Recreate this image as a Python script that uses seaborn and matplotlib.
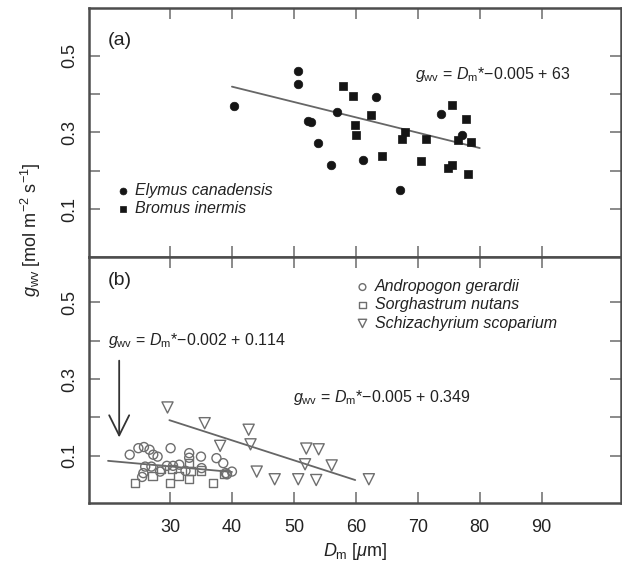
import numpy as np
import pandas as pd
import matplotlib
matplotlib.use("Agg")
import matplotlib.pyplot as plt
import seaborn as sns

# ---------------- data ----------------
# Panel (a)
elymus_x = [40.3, 50.7, 50.7, 52.2, 52.8, 53.9, 56.0, 57.0, 61.2, 63.2, 67.1, 73.8, 77.2]
elymus_y = [0.368, 0.460, 0.427, 0.329, 0.328, 0.273, 0.216, 0.353, 0.228, 0.391, 0.150, 0.349, 0.292]
bromus_x = [58.0, 59.6, 62.4, 59.9, 60.1, 64.3, 67.5, 68.0, 71.3, 70.5, 74.8, 75.5, 75.5, 77.7, 76.5, 78.6, 78.1]
bromus_y = [0.420, 0.395, 0.344, 0.319, 0.294, 0.237, 0.283, 0.301, 0.283, 0.224, 0.207, 0.214, 0.372, 0.334, 0.279, 0.274, 0.192]
fit_a_x = [40.0, 80.0]
fit_a_y = [0.419, 0.259]

# Panel (b)
andro_x = [23.5, 24.9, 25.8, 26.7, 27.3, 28.0, 30.1, 26.0, 27.0, 28.4, 29.5, 30.5, 31.5,
           33.1, 35.0, 37.5, 38.6, 40.0, 39.0, 25.7, 35.1, 32.5, 33.1, 39.2, 25.5]
andro_y = [0.103, 0.120, 0.123, 0.116, 0.103, 0.098, 0.120, 0.072, 0.072, 0.059, 0.074, 0.074, 0.077,
           0.107, 0.098, 0.094, 0.081, 0.059, 0.055, 0.055, 0.068, 0.061, 0.095, 0.052, 0.045]
sorg_x = [24.3, 27.2, 30.0, 30.3, 31.4, 33.1, 33.1, 35.0, 36.9, 38.7, 33.3, 28.6]
sorg_y = [0.030, 0.048, 0.030, 0.065, 0.048, 0.082, 0.039, 0.062, 0.030, 0.052, 0.061, 0.065]
schiz_x = [29.6, 35.6, 42.7, 43.0, 38.1, 52.0, 54.0, 51.8, 56.1, 44.0, 46.9, 50.7, 53.6, 62.1]
schiz_y = [0.226, 0.185, 0.168, 0.130, 0.126, 0.119, 0.117, 0.078, 0.075, 0.059, 0.039, 0.039, 0.037, 0.039]
fit_b1_x = [20.0, 40.0]
fit_b1_y = [0.087, 0.058]
fit_b2_x = [29.9, 59.9]
fit_b2_y = [0.193, 0.037]

x_ticks = [30, 40, 50, 60, 70, 80, 90]
y_ticks = [0.1, 0.2, 0.3, 0.4, 0.5]
y_ticklabels = ["0.1", "", "0.3", "", "0.5"]

# ---------------- style ----------------
sns.set_style("white")
plt.rcParams["font.family"] = ["Liberation Sans", "DejaVu Sans"]
plt.rcParams["mathtext.fontset"] = "custom"
plt.rcParams["mathtext.rm"] = "Liberation Sans"
plt.rcParams["mathtext.it"] = "Liberation Sans:italic"
plt.rcParams["mathtext.bf"] = "Liberation Sans:bold"

fig = plt.figure(figsize=(6.22, 5.70), dpi=100)
ax1 = fig.add_axes([0.1431, 0.5491, 0.8553, 0.4369])
ax2 = fig.add_axes([0.1431, 0.1181, 0.8553, 0.4310])

spine_col = "#4d4d4d"
tick_col = "#777777"
line_col = "#666666"

for ax in (ax1, ax2):
    ax.set_xlim(16.93, 102.8)
    ax.set_xticks(x_ticks)
    ax.set_yticks(y_ticks)
    ax.set_yticklabels(y_ticklabels)
    for s in ax.spines.values():
        s.set_color(spine_col)
        s.set_linewidth(1.8)
        s.set_visible(True)
    ax.tick_params(direction="in", length=8, width=1.2, color=tick_col,
                   top=True, right=True, left=True, bottom=True, labelsize=13,
                   labelcolor="#222222")
    ax.tick_params(axis="y", pad=8)
    ax.tick_params(axis="x", pad=12)
    for lab in ax.get_yticklabels():
        lab.set_rotation(90)
        lab.set_va("center")
    ax.set_xlabel("")
    ax.set_ylabel("")

ax1.set_ylim(-0.025, 0.624)
ax2.set_ylim(-0.022, 0.618)
ax1.tick_params(labelbottom=False)

# ---------------- panel (a) ----------------
dfa_e = pd.DataFrame({"x": elymus_x, "y": elymus_y})
dfa_b = pd.DataFrame({"x": bromus_x, "y": bromus_y})
sns.scatterplot(data=dfa_e, x="x", y="y", ax=ax1, marker="o", s=38, color="#151515",
                edgecolor="#151515", linewidth=0.5, label="Elymus canadensis", zorder=3)
sns.scatterplot(data=dfa_b, x="x", y="y", ax=ax1, marker="s", s=30, color="#151515",
                edgecolor="#151515", linewidth=0.5, label="Bromus inermis", zorder=3)
sns.lineplot(x=fit_a_x, y=fit_a_y, ax=ax1, color=line_col, linewidth=1.3, zorder=2)
ax1.set_xlabel("")
ax1.set_ylabel("")

ax1.text(19.95, 0.539, "(a)", fontsize=14, ha="left", va="center", color="#222222")
ax1.text(69.5, 0.45, r"$g_{\rm wv}$ = $D_{\rm m}$*−0.005 + 63", fontsize=11.5,
         ha="left", va="center", color="#222222")
leg1 = ax1.legend(loc="upper left", bbox_to_anchor=(0.03, 0.33), frameon=False,
                  prop={"style": "italic", "size": 11.5}, handletextpad=0.2,
                  labelspacing=0.2, borderpad=0, handlelength=1.2, markerscale=0.8)
for t in leg1.get_texts():
    t.set_color("#222222")

# ---------------- panel (b) ----------------
dfb_a = pd.DataFrame({"x": andro_x, "y": andro_y})
dfb_s = pd.DataFrame({"x": sorg_x, "y": sorg_y})
dfb_z = pd.DataFrame({"x": schiz_x, "y": schiz_y})
mk_edge = "#6e6e6e"
sns.scatterplot(data=dfb_a, x="x", y="y", ax=ax2, marker="o", s=42, facecolor="none",
                edgecolor=mk_edge, linewidth=1.0, label="Andropogon gerardii", zorder=3)
sns.scatterplot(data=dfb_s, x="x", y="y", ax=ax2, marker="s", s=36, facecolor="none",
                edgecolor=mk_edge, linewidth=1.0, label="Sorghastrum nutans", zorder=3)
sns.scatterplot(data=dfb_z, x="x", y="y", ax=ax2, marker="v", s=64, facecolor="none",
                edgecolor=mk_edge, linewidth=1.0, label="Schizachyrium scoparium", zorder=3)
sns.lineplot(x=fit_b1_x, y=fit_b1_y, ax=ax2, color=line_col, linewidth=1.3, zorder=2)
sns.lineplot(x=fit_b2_x, y=fit_b2_y, ax=ax2, color=line_col, linewidth=1.3, zorder=2)
ax2.set_xlabel("")
ax2.set_ylabel("")

ax2.text(19.95, 0.557, "(b)", fontsize=14, ha="left", va="center", color="#222222")
ax2.text(20.0, 0.40, r"$g_{\rm wv}$ = $D_{\rm m}$*−0.002 + 0.114", fontsize=11.5,
         ha="left", va="center", color="#222222")
ax2.text(49.8, 0.252, r"$g_{\rm wv}$ = $D_{\rm m}$*−0.005 + 0.349", fontsize=11.5,
         ha="left", va="center", color="#222222")
ax2.annotate("", xy=(21.8, 0.148), xytext=(21.8, 0.348),
             arrowprops=dict(arrowstyle="->,head_length=1.45,head_width=0.72",
                             lw=1.3, color="#333333", shrinkA=0, shrinkB=0))
leg2 = ax2.legend(loc="upper left", bbox_to_anchor=(0.481, 0.942), frameon=False,
                  prop={"style": "italic", "size": 11.5}, handletextpad=0.2,
                  labelspacing=0.2, borderpad=0, handlelength=1.2, markerscale=0.75)
for t in leg2.get_texts():
    t.set_color("#222222")

for lab in ax2.get_xticklabels():
    lab.set_color("#222222")

# axis titles
fig.text(0.05, 1 - 230 / 570, r"$g_{\rm wv}$ [mol m$^{-2}$ s$^{-1}$]", rotation=90,
         ha="center", va="center", fontsize=13, color="#222222")
fig.text(355 / 622, 1 - 552 / 570, r"$D_{\rm m}$ [$\mu$m]", ha="center", va="center",
         fontsize=13, color="#222222")

fig.savefig("out.png", dpi=100)
